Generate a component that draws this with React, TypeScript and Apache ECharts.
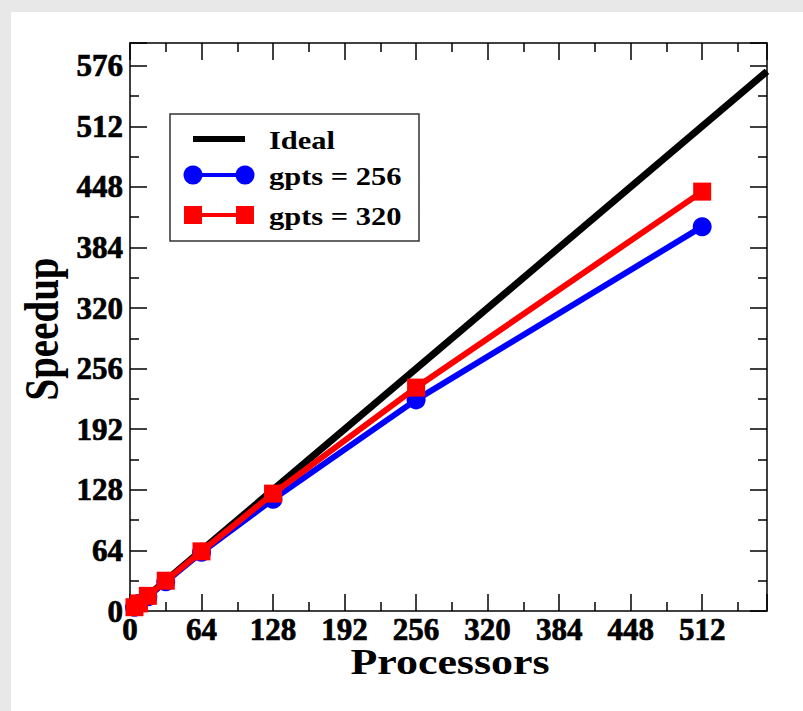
import React, { useEffect, useRef } from "react";
import * as echarts from "echarts";

const processors256 = [4, 8, 16, 32, 64, 128, 256, 512];
const speedup256 = [4, 8, 15, 31, 62, 118, 223, 406];
const processors320 = [4, 8, 16, 32, 64, 128, 256, 512];
const speedup320 = [4, 8, 16, 32, 63, 124, 236, 443];
const idealX = [0, 570];
const idealY = [0, 570];
const legendNames = ["Ideal", "gpts = 256", "gpts = 320"];
const xTitle = "Processors";
const yTitle = "Speedup";

const SERIF = "Liberation Serif";

export default function App() {
  const ref = useRef<HTMLDivElement>(null);
  useEffect(() => {
    if (!ref.current) return;
    const chart = echarts.init(ref.current, undefined, { renderer: "svg" });
    const axisCommon = {
      type: "value" as const,
      interval: 64,
      axisLine: { show: true, onZero: false, lineStyle: { color: "#000", width: 1.5 } },
      axisTick: { show: true, inside: true, length: 17, lineStyle: { color: "#000", width: 1.5 } },
      minorTick: { show: true, splitNumber: 2, length: 9, lineStyle: { color: "#000", width: 1.5 } },
      splitLine: { show: false },
      minorSplitLine: { show: false },
    };
    const labelStyle = {
      fontFamily: SERIF,
      fontWeight: 700,
      fontSize: 31,
      color: "#000",
      textBorderColor: "#000",
      textBorderWidth: 0.7,
      showMaxLabel: false,
    };
    const lx = 193, rx = 245;
    const legendY = [139, 175, 215];
    chart.setOption({
      animation: false,
      backgroundColor: "transparent",
      textStyle: { fontFamily: SERIF },
      grid: { left: 130, right: 36, top: 43, bottom: 100, containLabel: false },
      xAxis: [
        { ...axisCommon, position: "bottom", min: 0, max: 570, axisLabel: { ...labelStyle, margin: 3 } },
        { ...axisCommon, position: "top", min: 0, max: 570, axisLabel: { show: false } },
      ],
      yAxis: [
        { ...axisCommon, position: "left", min: 0, max: 600, axisLabel: { ...labelStyle, margin: 7 } },
        { ...axisCommon, position: "right", min: 0, max: 600, axisLabel: { show: false } },
      ],
      series: [
        {
          name: legendNames[0],
          type: "line",
          data: idealX.map((x, i) => [x, idealY[i]]),
          showSymbol: false,
          symbol: "none",
          lineStyle: { color: "#000", width: 7 },
          itemStyle: { color: "#000" },
          z: 2,
        },
        {
          name: legendNames[1],
          type: "line",
          data: processors256.map((x, i) => [x, speedup256[i]]),
          symbol: "circle",
          symbolSize: 19,
          lineStyle: { color: "#0000ff", width: 6 },
          itemStyle: { color: "#0000ff" },
          z: 3,
        },
        {
          name: legendNames[2],
          type: "line",
          data: processors320.map((x, i) => [x, speedup320[i]]),
          symbol: "rect",
          symbolSize: 18,
          lineStyle: { color: "#ff0000", width: 6 },
          itemStyle: { color: "#ff0000" },
          z: 4,
        },
      ],
      graphic: [
        {
          type: "text",
          x: 450,
          y: 662,
          scaleX: 1.22,
          style: {
            text: xTitle,
            font: `bold 36px ${SERIF}`,
            fill: "#000",
            textAlign: "center",
            textVerticalAlign: "middle",
          },
        },
        {
          type: "text",
          x: 42,
          y: 329,
          rotation: Math.PI / 2,
          scaleY: 1.22,
          style: {
            text: yTitle,
            font: `bold 39px ${SERIF}`,
            fill: "#000",
            textAlign: "center",
            textVerticalAlign: "middle",
          },
        },
        {
          type: "group",
          z: 100,
          children: [
            {
              type: "rect",
              shape: { x: 170, y: 114, width: 249, height: 127 },
              style: { fill: "#fff", stroke: "#333", lineWidth: 1.5 },
            },
            {
              type: "line",
              shape: { x1: lx, y1: legendY[0], x2: rx, y2: legendY[0] },
              style: { stroke: "#000", lineWidth: 6 },
            },
            {
              type: "line",
              shape: { x1: lx, y1: legendY[1], x2: rx, y2: legendY[1] },
              style: { stroke: "#0000ff", lineWidth: 4 },
            },
            { type: "circle", shape: { cx: lx, cy: legendY[1], r: 9.5 }, style: { fill: "#0000ff" } },
            { type: "circle", shape: { cx: rx, cy: legendY[1], r: 9.5 }, style: { fill: "#0000ff" } },
            {
              type: "line",
              shape: { x1: lx, y1: legendY[2], x2: rx, y2: legendY[2] },
              style: { stroke: "#ff0000", lineWidth: 4 },
            },
            { type: "rect", shape: { x: lx - 9, y: legendY[2] - 9, width: 18, height: 18 }, style: { fill: "#ff0000" } },
            { type: "rect", shape: { x: rx - 9, y: legendY[2] - 9, width: 18, height: 18 }, style: { fill: "#ff0000" } },
            ...legendNames.map((name, i) => ({
              type: "text",
              x: 269,
              y: legendY[i] + 1,
              scaleX: 1.22,
              style: {
                text: name,
                font: `bold 25px ${SERIF}`,
                fill: "#000",
                textAlign: "left",
                textVerticalAlign: "middle",
              },
            })),
          ],
        },
      ],
    });
    return () => chart.dispose();
  }, []);
  return (
    <div style={{ position: "absolute", left: 0, top: 0, width: 803, height: 711, background: "#e8e8e8" }}>
      <div style={{ position: "absolute", left: 11, top: 12, width: 792, height: 699, background: "#fff" }} />
      <div ref={ref} style={{ position: "absolute", left: 0, top: 0, width: 803, height: 711 }} />
    </div>
  );
}
